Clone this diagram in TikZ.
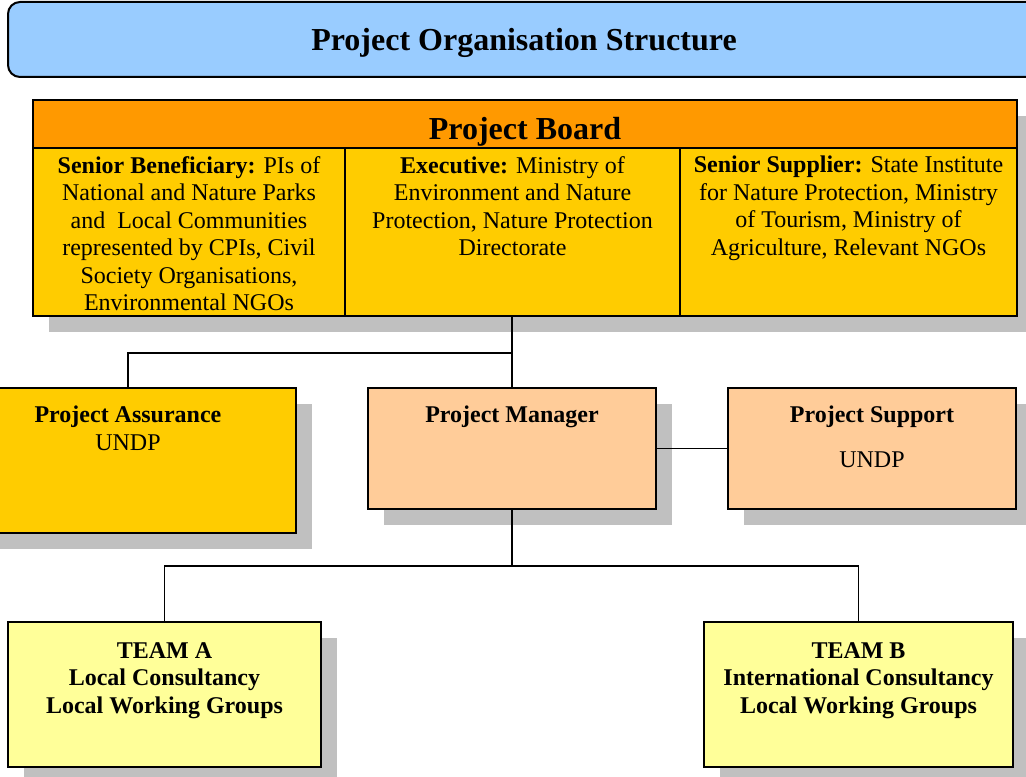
\documentclass[tikz,border=0pt]{standalone}
\usepackage{fontspec}
\setmainfont{Liberation Serif}
\usepackage{tikz}
\usetikzlibrary{shadows}
\definecolor{titleblue}{HTML}{99CCFF}
\definecolor{boardorange}{HTML}{FF9900}
\definecolor{boardyellow}{HTML}{FFCC00}
\definecolor{peach}{HTML}{FFCC99}
\definecolor{paleyellow}{HTML}{FFFF99}
\definecolor{shadowgray}{HTML}{C0C0C0}

\begin{document}
\begin{tikzpicture}[x=0.75pt, y=-0.75pt,
    box/.style={draw, line width=1.5pt, inner sep=0pt, outer sep=0pt},
    shadowbox/.style={box, drop shadow={shadow xshift=12pt, shadow yshift=-12pt, fill=shadowgray, opacity=1}},
    txt/.style={font=\fontsize{18}{20.6}\selectfont, align=center, inner sep=0pt, anchor=north},
    link/.style={line width=1.2pt}]
    \useasboundingbox (0,0) rectangle (1026,777);
    \clip (0,0) rectangle (1026,777);

    \node[box, rounded corners=9pt, fill=titleblue, minimum width=774pt, minimum height=56.25pt,
        font=\fontsize{24}{28}\selectfont\bfseries, text depth=0pt] (T) at (524,39.5) {Project Organisation Structure};

    \node[shadowbox, fill=boardyellow, minimum width=738pt, minimum height=162pt] (PB) at (525,208) {};
    \node[box, fill=boardorange, minimum width=738pt, minimum height=36pt, anchor=north] (PBhead) at (PB.north) {};
    \node[anchor=base, inner sep=0pt, font=\fontsize{24}{28}\selectfont\bfseries] (PBtext) at (525,140) {Project Board};
    \node[box, minimum width=234pt, minimum height=126pt, anchor=north west] (SB) at (33,148) {};
    \node[box, minimum width=251.25pt, minimum height=126pt, anchor=north west] (EX) at (SB.north east) {};
    \node[box, minimum width=252.75pt, minimum height=126pt, anchor=north west] (SS) at (EX.north east) {};
    \node[txt] (SBtext) at (189,156) {\textbf{Senior Beneficiary:} PIs of\\National and Nature Parks\\and~ Local Communities\\represented by CPIs, Civil\\Society Organisations,\\Environmental NGOs};
    \node[txt] (EXtext) at (512.5,156) {\textbf{Executive:} Ministry of\\Environment and Nature\\Protection, Nature Protection\\Directorate};
    \node[txt] (SStext) at (848.5,156) {\textbf{Senior Supplier:} State Institute\\for Nature Protection, Ministry\\of Tourism, Ministry of\\Agriculture, Relevant NGOs};

    \node[shadowbox, fill=boardyellow, minimum width=252pt, minimum height=108.75pt] (PA) at (128,460.5) {};
    \node[shadowbox, fill=peach, minimum width=216pt, minimum height=90.75pt] (PM) at (512,448.5) {};
    \node[shadowbox, fill=peach, minimum width=216pt, minimum height=90.75pt] (PS) at (872,448.5) {};
    \node[txt] (PAtext) at (128,406) {\textbf{Project Assurance}\\UNDP};
    \node[txt, font=\fontsize{18}{20.6}\selectfont\bfseries] (PMtext) at (512,406) {Project Manager};
    \node[txt] (PStext) at (872,406) {\textbf{Project Support}\\[13pt]UNDP};

    \node[shadowbox, fill=paleyellow, minimum width=234.75pt, minimum height=108.75pt] (TA) at (164.5,694.5) {};
    \node[shadowbox, fill=paleyellow, minimum width=231.75pt, minimum height=108.75pt] (TB) at (858.5,694.5) {};
    \node[txt, font=\fontsize{18}{20.6}\selectfont\bfseries] (TAtext) at (164.5,642) {TEAM A\\Local Consultancy\\Local Working Groups};
    \node[txt, font=\fontsize{18}{20.6}\selectfont\bfseries] (TBtext) at (858.5,642) {TEAM B\\International Consultancy\\Local Working Groups};

    \coordinate (top) at (512,353);
    \coordinate (low) at (512,566);
    \draw[link] (PM.north |- PB.south)--(PM.north);
    \draw[link] (top) -| (PA.north);
    \draw[link] (PM.east)--(PS.west);
    \draw[link] (PM.south)--(low);
    \draw[link] (TA.north) |- (low) -| (TB.north);
\end{tikzpicture}
\end{document}
